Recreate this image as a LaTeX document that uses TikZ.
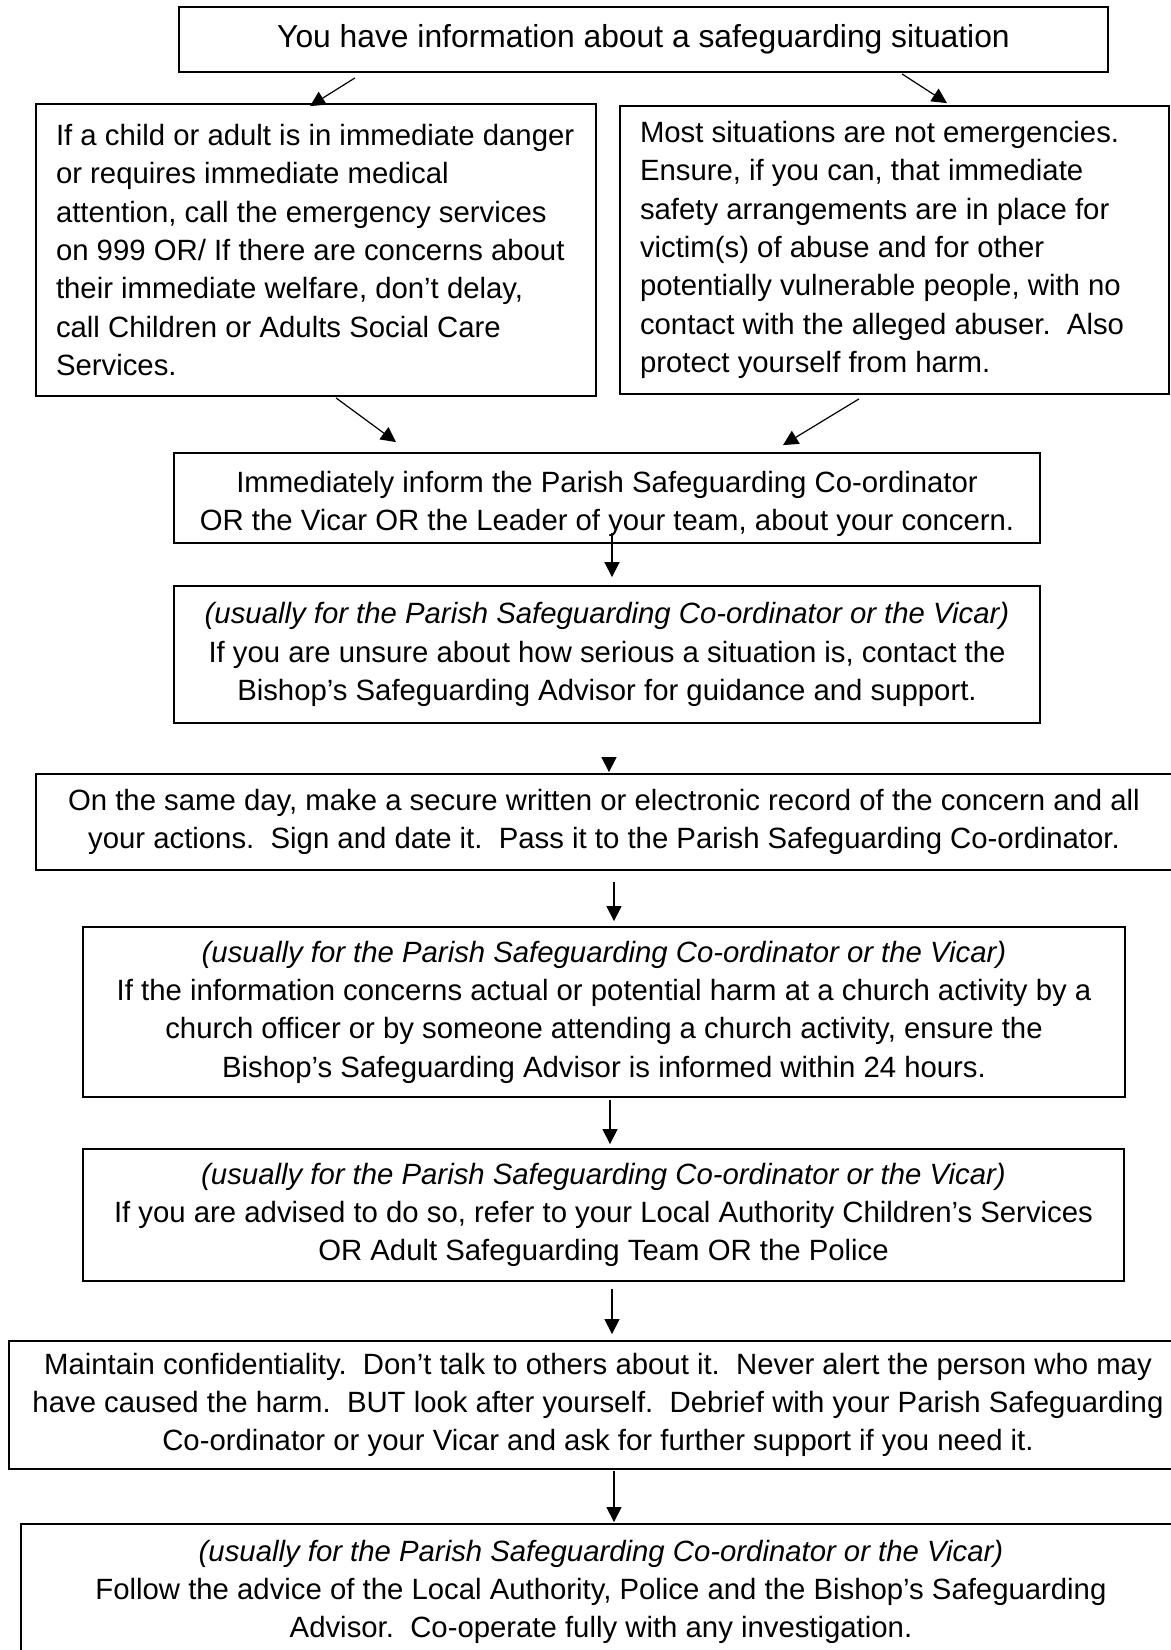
\documentclass[tikz,border=0pt]{standalone}
\usepackage{fontspec}
\setmainfont{Liberation Sans}
\usetikzlibrary{calc,arrows.meta}
\begin{document}
\begin{tikzpicture}[x=0.5pt,y=-0.5pt,
  box/.style={draw=black, line width=0.9pt, inner xsep=10pt, inner ysep=0pt,
    font=\fontsize{14.66pt}{19.15pt}\selectfont},
  arr/.style={-{Triangle[length=7.5pt,width=7.5pt]}, line width=0.6pt}]
\useasboundingbox (0,0) rectangle (1171,1650);
\fill[white] (0,0) rectangle (1171,1650);
\clip (0,0) rectangle (1171,1650);

\node[box, text width=444.5pt, minimum height=32.5pt, align=flush center,
  font=\fontsize{15.9pt}{19pt}\selectfont] (t) at (643.5,39.5)
  {You have information about a safeguarding situation};

\node[box, text width=260pt, minimum height=146pt, align=flush left] (a) at (316,250)
  {If a child or adult is in immediate danger\\
   or requires immediate medical\\
   attention, call the emergency services\\
   on 999 OR/ If there are concerns about\\
   their immediate welfare, don’t delay,\\
   call Children or Adults Social Care\\
   Services.};

\node[box, text width=254.5pt, minimum height=144pt, align=flush left] (b) at (894.5,250)
  {Most situations are not emergencies.\\
   Ensure, if you can, that immediate\\
   safety arrangements are in place for\\
   victim(s) of abuse and for other\\
   potentially vulnerable people, with no\\
   contact with the alleged abuser.\ \ Also\\
   protect yourself from harm.};

\node[box, text width=413pt, minimum height=45pt, align=flush center] (c) at (607,498)
  {\rule{0pt}{16.7pt}Immediately inform the Parish Safeguarding Co-ordinator\\
   OR the Vicar OR the Leader of your team, about your concern.};

\node[box, text width=413pt, minimum height=68.5pt, align=flush center] (d) at (607,654.5)
  {\textit{(usually for the Parish Safeguarding Co-ordinator or the Vicar)}\\
   If you are unsure about how serious a situation is, contact the\\
   Bishop’s Safeguarding Advisor for guidance and support.};

\node[box, text width=548pt, minimum height=48pt, align=flush center] (e) at (604,822)
  {On the same day, make a secure written or electronic record of the concern and all\\
   your actions.\ \ Sign and date it.\ \ Pass it to the Parish Safeguarding Co-ordinator.};

\node[box, text width=501pt, minimum height=85pt, align=flush center] (f) at (604,1012)
  {\textit{(usually for the Parish Safeguarding Co-ordinator or the Vicar)}\\
   If the information concerns actual or potential harm at a church activity by a\\
   church officer or by someone attending a church activity, ensure the\\
   Bishop’s Safeguarding Advisor is informed within 24 hours.};

\node[box, text width=500.5pt, minimum height=66pt, align=flush center] (g) at (603.5,1215)
  {\textit{(usually for the Parish Safeguarding Co-ordinator or the Vicar)}\\
   If you are advised to do so, refer to your Local Authority Children’s Services\\
   OR Adult Safeguarding Team OR the Police};

\node[box, inner xsep=5pt, text width=579pt, minimum height=64pt, align=flush center] (h) at (598,1405)
  {Maintain confidentiality.\ \ Don’t talk to others about it.\ \ Never alert the person who may\\
   have caused the harm.\ \ BUT look after yourself.\ \ Debrief with your Parish Safeguarding\\
   Co-ordinator or your Vicar and ask for further support if you need it.};

\node[box, text width=560pt, minimum height=68pt, align=flush center] (i) at (601,1592)
  {\textit{(usually for the Parish Safeguarding Co-ordinator or the Vicar)}\\
   Follow the advice of the Local Authority, Police and the Bishop’s Safeguarding\\
   Advisor.\ \ Co-operate fully with any investigation.};

\draw[arr] ($(t.south)+(-288.5,5)$) -- ($(a.north)+(-6,3)$);
\draw[arr] ($(t.south)+(258.5,1)$) -- ($(b.north)+(52.5,-2)$);
\draw[arr] ($(a.south)+(20,1)$) -- ($(c.north)+(-211,-10)$);
\draw[arr] ($(b.south)+(-35.5,4)$) -- ($(c.north)+(176,-7)$);
\draw[arr] ($(c.south)+(5,-11)$) -- ($(d.north)+(5,-8)$);
\draw[arr] ($(d.south)+(2,36)$) -- ($(e.north)+(5,-1)$);
\draw[arr] ($(e.south)+(10,11)$) -- ($(f.north)+(10,-5)$);
\draw[arr] ($(f.south)+(6,2)$) -- ($(g.north)+(6.5,-4)$);
\draw[arr] ($(g.south)+(8.5,7)$) -- ($(h.north)+(14,-6)$);
\draw[arr] ($(h.south)+(16,1)$) -- ($(i.north)+(13,-1)$);
\end{tikzpicture}
\end{document}
